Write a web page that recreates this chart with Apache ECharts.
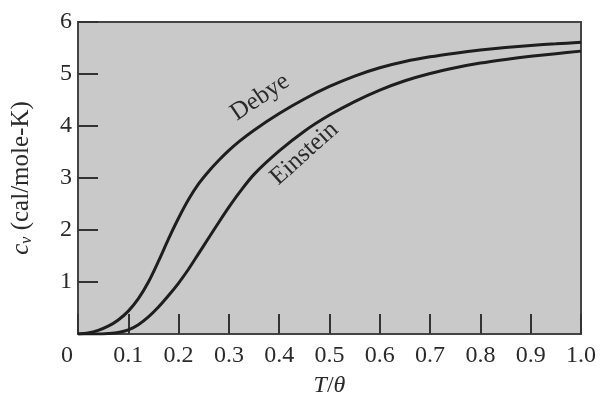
<!DOCTYPE html>
<html>
<head>
<meta charset="utf-8">
<script src="https://cdn.jsdelivr.net/npm/echarts@6/dist/echarts.min.js"></script>
<style>
  html, body { margin: 0; padding: 0; background: #fff; }
  #main { width: 602px; height: 406px; }
</style>
</head>
<body>
<div id="main"></div>
<script>
// 读图得到的数据 (T/θ, c_v)
var debyeT  = [0, 0.02, 0.04, 0.06, 0.08, 0.10, 0.12, 0.14, 0.16, 0.18, 0.20, 0.22, 0.24, 0.26, 0.28, 0.30, 0.32, 0.35, 0.40, 0.45, 0.50, 0.55, 0.60, 0.65, 0.70, 0.75, 0.80, 0.85, 0.90, 0.95, 1.00];
var debyeCv = [0, 0.02, 0.07, 0.15, 0.27, 0.44, 0.68, 1.00, 1.40, 1.83, 2.23, 2.59, 2.89, 3.13, 3.34, 3.53, 3.70, 3.92, 4.24, 4.52, 4.76, 4.96, 5.12, 5.24, 5.33, 5.40, 5.46, 5.51, 5.55, 5.58, 5.61];

var einsteinT  = [0, 0.04, 0.06, 0.08, 0.10, 0.12, 0.14, 0.16, 0.18, 0.20, 0.22, 0.24, 0.26, 0.28, 0.30, 0.32, 0.35, 0.40, 0.45, 0.50, 0.55, 0.60, 0.65, 0.70, 0.75, 0.80, 0.85, 0.90, 0.95, 1.00];
var einsteinCv = [0, 0, 0.01, 0.03, 0.08, 0.18, 0.33, 0.52, 0.74, 0.98, 1.25, 1.55, 1.85, 2.15, 2.44, 2.71, 3.07, 3.52, 3.90, 4.21, 4.47, 4.69, 4.87, 5.01, 5.12, 5.21, 5.28, 5.34, 5.39, 5.44];

var curveLabels = [
  { name: 'Debye', coord: [0.362, 4.55], rotate: 34 },
  { name: 'Einstein', coord: [0.45, 3.47], rotate: 42 }
];

function pairs(xs, ys) {
  return xs.map(function (x, i) { return [x, ys[i]]; });
}

var serif = '"Liberation Serif", "DejaVu Serif", serif';
var ink = '#2a2a2a';

var myChart = echarts.init(document.getElementById('main'));

function labelMark(l) {
  return {
    symbol: 'rect',
    symbolSize: [1, 1],
    silent: true,
    itemStyle: { color: 'rgba(0,0,0,0)' },
    label: {
      show: true,
      position: 'inside',
      formatter: '{b}',
      rotate: l.rotate,
      fontFamily: serif,
      fontSize: 25,
      color: ink
    },
    data: [{ name: l.name, coord: l.coord }]
  };
}

var option = {
  backgroundColor: '#fff',
  animation: false,
  grid: {
    left: 78, right: 21, top: 22, bottom: 72,
    show: true,
    backgroundColor: '#c9c9c9',
    borderColor: '#444',
    borderWidth: 2
  },
  xAxis: {
    type: 'value',
    min: 0, max: 1, interval: 0.1,
    name: '{i|T}/{i|θ}',
    nameLocation: 'middle',
    nameGap: 40,
    nameTextStyle: {
      fontFamily: serif, fontSize: 24, color: ink,
      rich: { i: { fontFamily: serif, fontStyle: 'italic', fontSize: 24, color: ink } }
    },
    axisLine: { show: true, lineStyle: { color: '#444', width: 2 } },
    axisTick: { show: true, inside: true, length: 20, lineStyle: { color: '#333', width: 2 } },
    splitLine: { show: false },
    axisLabel: {
      margin: 10,
      fontFamily: serif, fontSize: 24, color: ink,
      formatter: function (v) {
        if (v === 0) return '{z|0}';
        return v.toFixed(1);
      },
      rich: { z: { fontFamily: serif, fontSize: 24, color: ink, padding: [0, 22, 0, 0] } }
    }
  },
  yAxis: {
    type: 'value',
    min: 0, max: 6, interval: 1,
    name: '{i|c}{s|v} (cal/mole-K)',
    nameLocation: 'middle',
    nameGap: 43,
    nameRotate: 90,
    nameTextStyle: {
      fontFamily: serif, fontSize: 25, color: ink,
      rich: {
        i: { fontFamily: serif, fontStyle: 'italic', fontSize: 25, color: ink },
        s: { fontFamily: serif, fontStyle: 'italic', fontSize: 16, color: ink, padding: [12, 0, 0, 0] }
      }
    },
    axisLine: { show: true, lineStyle: { color: '#444', width: 2 } },
    axisTick: { show: true, inside: true, length: 20, lineStyle: { color: '#333', width: 2 } },
    splitLine: { show: false },
    axisLabel: {
      showMinLabel: false,
      margin: 6,
      fontFamily: serif, fontSize: 24, color: ink
    }
  },
  series: [
    {
      name: 'Debye',
      type: 'line',
      smooth: 0.3,
      showSymbol: false,
      lineStyle: { color: '#1e1e1e', width: 3 },
      data: pairs(debyeT, debyeCv),
      markPoint: labelMark(curveLabels[0])
    },
    {
      name: 'Einstein',
      type: 'line',
      smooth: 0.3,
      showSymbol: false,
      lineStyle: { color: '#1e1e1e', width: 3 },
      data: pairs(einsteinT, einsteinCv),
      markPoint: labelMark(curveLabels[1])
    }
  ]
};
myChart.setOption(option);
</script>
</body>
</html>
